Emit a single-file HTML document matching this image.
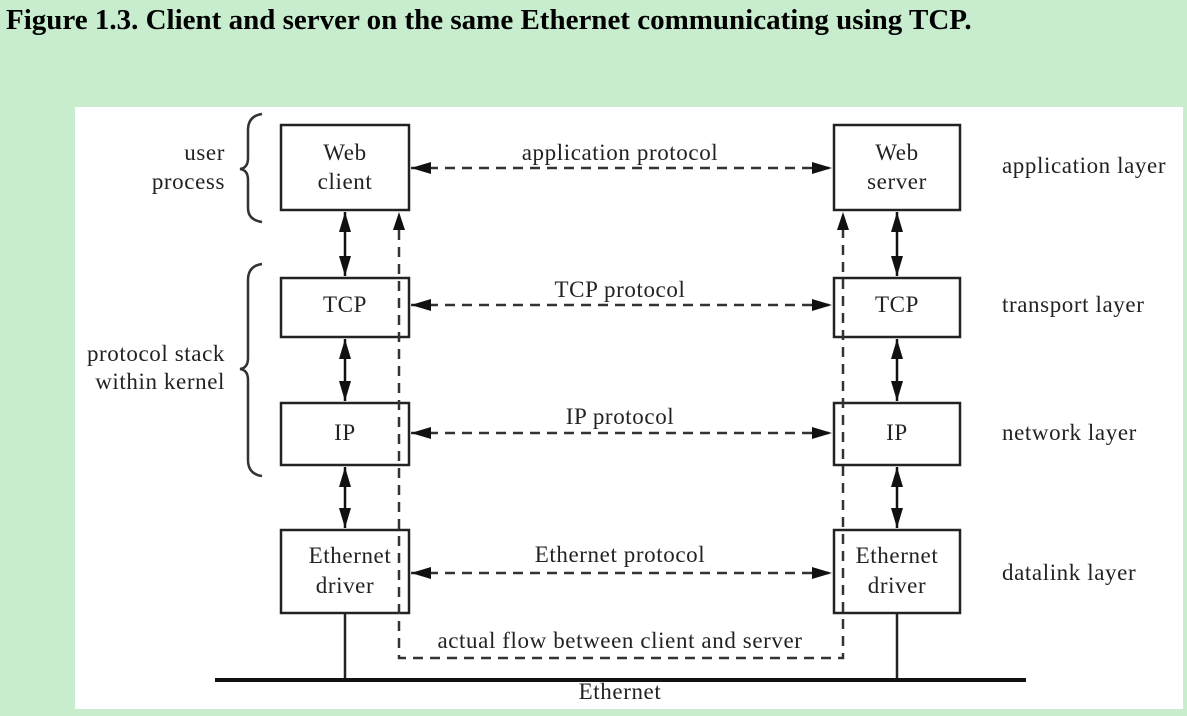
<!DOCTYPE html>
<html><head><style>
body{margin:0;width:1187px;height:716px;background:#c7ecce;overflow:hidden;position:relative}
h1{position:absolute;left:6px;top:4px;margin:0;font:bold 29px "Liberation Serif",serif;color:#000;white-space:nowrap}
svg{position:absolute;left:0;top:0}
text{font-family:"Liberation Serif",serif;font-size:23px;letter-spacing:0.6px;fill:#222}
</style></head><body>
<h1>Figure 1.3. Client and server on the same Ethernet communicating using TCP.</h1>
<svg width="1187" height="716">
<defs>
<marker id="b" viewBox="0 0 20 12" refX="20" refY="6" markerWidth="20" markerHeight="12" orient="auto-start-reverse" markerUnits="userSpaceOnUse"><path d="M0,0L20,6L0,12z" fill="#111"/></marker>
</defs>
<rect x="75" y="107" width="1108" height="602" fill="#fff"/>
<g fill="none" stroke="#222" stroke-width="2.5">
<rect x="281" y="125" width="128" height="85"/>
<rect x="281" y="278" width="128" height="59"/>
<rect x="281" y="403" width="128" height="62"/>
<rect x="281" y="530" width="128" height="83"/>
<rect x="834" y="125" width="126" height="85"/>
<rect x="834" y="278" width="126" height="59"/>
<rect x="834" y="403" width="126" height="62"/>
<rect x="834" y="530" width="126" height="83"/>
</g>
<g stroke="#111" stroke-width="2.5" marker-start="url(#b)" marker-end="url(#b)">
<line x1="345" y1="212" x2="345" y2="276"/>
<line x1="345" y1="339" x2="345" y2="401"/>
<line x1="345" y1="467" x2="345" y2="528"/>
<line x1="897" y1="212" x2="897" y2="276"/>
<line x1="897" y1="339" x2="897" y2="401"/>
<line x1="897" y1="467" x2="897" y2="528"/>
</g>
<g stroke="#333" stroke-width="2.5" stroke-dasharray="10,7" marker-start="url(#b)" marker-end="url(#b)">
<line x1="411" y1="168" x2="832" y2="168"/>
<line x1="411" y1="305" x2="832" y2="305"/>
<line x1="411" y1="433" x2="832" y2="433"/>
<line x1="411" y1="573" x2="832" y2="573"/>
</g>
<g fill="none" stroke="#333" stroke-width="2.5" stroke-dasharray="10,7">
<path d="M399 230 V658 H843 V230"/>
</g>
<path d="M393 230 L399 212 L405 230z M837 230 L843 212 L849 230z" fill="#111"/>
<g stroke="#222" stroke-width="2.5">
<line x1="345" y1="613" x2="345" y2="680"/>
<line x1="897" y1="613" x2="897" y2="680"/>
</g>
<line x1="215" y1="680" x2="1026" y2="680" stroke="#111" stroke-width="4"/>
<g fill="none" stroke="#333" stroke-width="2.5">
<path d="M262 114 Q248 116 248 130 V158 Q248 168 240 169 Q248 170 248 180 V208 Q248 220 262 222"/>
<path d="M262 264 Q248 266 248 280 V358 Q248 368 240 369 Q248 370 248 380 V460 Q248 474 262 476"/>
</g>
<g text-anchor="middle">
<text x="345" y="160">Web</text><text x="345" y="189">client</text>
<text x="897" y="160">Web</text><text x="897" y="189">server</text>
<text x="345" y="312">TCP</text><text x="897" y="312">TCP</text>
<text x="345" y="440">IP</text><text x="897" y="440">IP</text>
<text x="350" y="563">Ethernet</text><text x="345" y="593">driver</text>
<text x="897" y="563">Ethernet</text><text x="897" y="593">driver</text>
<text x="620" y="160">application protocol</text>
<text x="620" y="297">TCP protocol</text>
<text x="620" y="424">IP protocol</text>
<text x="620" y="562">Ethernet protocol</text>
<text x="620" y="648">actual flow between client and server</text>
<text x="620" y="699">Ethernet</text>
</g>
<g text-anchor="end">
<text x="225" y="160">user</text><text x="225" y="189">process</text>
<text x="225" y="361">protocol stack</text><text x="225" y="389">within kernel</text>
</g>
<text x="1002" y="173">application layer</text>
<text x="1002" y="312">transport layer</text>
<text x="1002" y="440">network layer</text>
<text x="1002" y="580">datalink layer</text>
</svg>
</body></html>
